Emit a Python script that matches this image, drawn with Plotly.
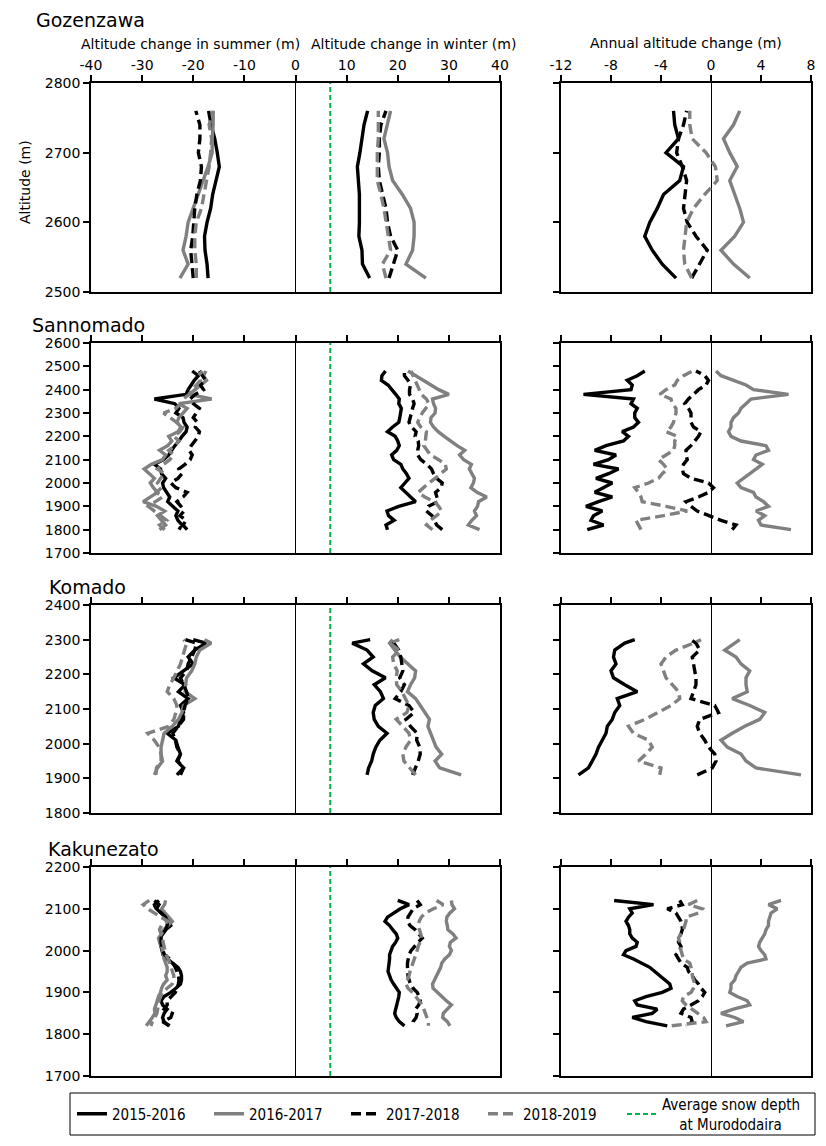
"""Altitude change profiles of four snow patches (summer / winter / annual)."""
import plotly.graph_objects as go

# the page body keeps its default 8px margin, so the figure is drawn 8px in
PAGE_W, PAGE_H, BODY_MARGIN = 826, 1146, 8
W, H = PAGE_W - BODY_MARGIN, PAGE_H - BODY_MARGIN
FONT = "DejaVu Sans, Verdana, sans-serif"
LEGEND_FONT = "DejaVu Sans Condensed, Liberation Sans Narrow, DejaVu Sans, sans-serif"
LINE_W = 3.4

SEASONS = ["2015-2016", "2016-2017", "2017-2018", "2018-2019"]
SEASON_COLORS = ["#000000", "#808080", "#000000", "#808080"]
SEASON_DASHES = ["solid", "solid", "10px,5px", "10px,5px"]

# average snow depth at Murododaira (m)
SNOW_DEPTH = 6.8
SNOW_LABEL = "Average snow depth<br>\u00a0\u00a0\u00a0\u00a0at Murododaira"

# ---- Gozenzawa ----
GOZ_ALT = [2520, 2540, 2560, 2580, 2600, 2620, 2640, 2660, 2680, 2700, 2720, 2740, 2760]
GOZ_SUMMER = [
    [-17.1, -17.3, -17.7, -17.8, -17.3, -16.6, -16.2, -15.6, -14.9, -15.3, -15.8, -16.5, -17.0],
    [-22.6, -21.0, -22.0, -21.4, -21.0, -20.0, -19.0, -18.1, -17.1, -16.3, -16.3, -16.1, -16.1],
    [-20.0, -20.3, -20.5, -20.1, -19.9, -19.7, -19.3, -18.6, -18.4, -19.0, -18.7, -18.7, -19.5],
    [-19.4, -19.4, -19.7, -19.7, -19.4, -18.4, -17.9, -17.4, -16.9, -16.6, -16.4, -16.9, -16.1],
]
GOZ_WINTER = [
    [14.5, 13.1, 13.0, 12.4, 12.5, 12.5, 12.5, 12.3, 12.1, 12.6, 13.0, 13.4, 14.1],
    [25.5, 21.6, 22.9, 23.2, 23.2, 22.5, 20.9, 19.0, 18.3, 18.0, 17.3, 18.0, 18.6],
    [18.3, 19.2, 20.0, 18.6, 18.0, 17.7, 17.0, 16.4, 16.2, 16.4, 16.4, 16.7, 17.7],
    [17.7, 17.0, 18.6, 18.2, 17.7, 17.3, 16.7, 16.0, 16.0, 16.0, 16.2, 16.2, 16.2],
]
GOZ_ANNUAL = [
    [-2.8, -3.9, -4.7, -5.3, -4.9, -4.3, -3.8, -2.5, -2.2, -3.6, -2.6, -2.9, -3.0],
    [3.1, 1.8, 0.8, 1.9, 2.6, 2.3, 1.9, 1.5, 2.1, 1.5, 1.0, 1.8, 2.3],
    [-1.55, -0.9, -0.3, -1.2, -1.9, -2.2, -2.1, -1.95, -2.3, -2.75, -2.6, -2.2, -1.95],
    [-1.55, -2.1, -2.2, -2.1, -1.95, -1.4, -0.5, 0.5, 0.35, -0.4, -1.5, -1.7, -1.7],
]

# ---- Sannomado ----
SAN_ALT = [1800, 1820, 1840, 1860, 1880, 1900, 1920, 1940, 1960, 1980, 2000, 2020,
           2040, 2060, 2080, 2100, 2120, 2140, 2160, 2180, 2200, 2220, 2240, 2260,
           2280, 2300, 2320, 2340, 2360, 2380, 2400, 2420, 2440, 2460, 2480]
SAN_SUMMER = [
    [-22.8, -22.2, -23.0, -23.4, -23.0, -24.0, -25.0, -24.6, -25.2, -25.8, -26.0, -25.4,
     -26.2, -26.4, -27.6, -25.8, -24.8, -24.2, -23.6, -22.8, -22.2, -21.4, -21.2, -21.8,
     -22.0, -23.4, -22.8, -23.6, -27.6, -21.4, -21.0, -20.4, -19.8, -19.0, -20.2],
    [-26.6, -25.4, -26.2, -27.0, -25.6, -27.2, -29.8, -28.4, -27.0, -27.8, -28.4, -27.6,
     -28.6, -29.6, -28.2, -26.0, -25.4, -26.6, -25.0, -24.2, -24.8, -23.0, -22.4, -23.2,
     -22.8, -22.0, -21.2, -22.8, -16.4, -20.8, -19.6, -18.4, -17.4, -18.0, -17.5],
    [-21.2, -22.0, -21.4, -22.6, -21.8, -22.4, -23.2, -22.0, -21.2, -23.4, -24.4, -23.0,
     -22.2, -22.8, -21.6, -20.6, -20.2, -20.8, -20.4, -19.6, -19.0, -18.8, -19.6, -19.2,
     -20.0, -19.4, -18.8, -20.0, -20.6, -19.6, -18.0, -18.6, -17.6, -18.2, -18.8],
    [-25.6, -26.6, -25.2, -26.4, -27.6, -28.8, -27.4, -26.0, -27.2, -26.2, -27.0, -26.4,
     -25.6, -27.0, -25.8, -24.6, -23.8, -24.8, -23.6, -22.8, -23.8, -22.6, -22.0, -23.2,
     -24.6, -25.8, -23.4, -22.4, -22.0, -20.8, -20.2, -19.4, -18.6, -19.0, -18.2],
]
SAN_WINTER = [
    [18.0, 17.7, 19.3, 18.2, 17.9, 20.2, 23.5, 22.6, 21.6, 20.6, 21.4, 22.2,
     21.7, 21.0, 20.6, 19.2, 18.8, 19.8, 20.3, 20.0, 19.5, 18.0, 19.0, 20.2,
     20.4, 20.5, 20.7, 20.2, 20.3, 19.6, 18.9, 18.1, 16.8, 16.9, 17.6],
    [36.0, 33.8, 34.5, 35.4, 35.0, 35.6, 35.8, 37.4, 35.5, 34.3, 34.8, 35.0,
     34.5, 34.0, 34.4, 32.9, 32.1, 33.1, 31.6, 30.2, 29.1, 27.9, 27.0, 26.4,
     26.5, 27.3, 27.4, 27.0, 26.8, 30.0, 28.0, 26.5, 25.0, 23.4, 22.0],
    [28.7, 27.6, 27.2, 26.7, 25.6, 26.0, 27.9, 27.6, 27.4, 28.5, 28.7, 27.6,
     27.0, 26.6, 25.7, 24.5, 23.9, 23.9, 24.1, 24.0, 23.4, 23.6, 22.7, 22.2,
     22.4, 22.6, 22.9, 23.2, 22.9, 22.3, 22.3, 22.5, 22.0, 21.3, 21.3],
    [26.8, 25.6, 26.3, 27.6, 28.6, 28.0, 27.2, 25.3, 24.0, 25.0, 26.1, 27.3,
     28.3, 29.5, 29.3, 28.0, 26.4, 25.8, 25.1, 25.4, 25.5, 25.6, 24.5, 23.9,
     24.3, 24.8, 25.5, 26.1, 25.6, 24.6, 24.2, 23.8, 23.4, 22.9, 22.6],
]
SAN_ANNUAL = [
    [-9.9, -8.6, -9.6, -9.4, -8.7, -10.0, -9.0, -7.9, -9.3, -8.6, -7.9, -9.2,
     -8.2, -7.4, -9.4, -8.2, -7.6, -9.3, -8.4, -7.0, -6.6, -7.1, -6.2, -5.8,
     -6.1, -6.1, -5.9, -6.4, -6.2, -10.2, -6.4, -6.3, -6.7, -5.9, -5.3],
    [6.4, 4.0, 3.8, 4.3, 3.6, 4.6, 4.2, 3.6, 3.4, 2.4, 2.1, 2.6,
     3.0, 3.6, 4.1, 3.4, 3.6, 4.6, 4.4, 2.4, 1.6, 1.4, 1.6, 1.6,
     1.8, 2.2, 2.4, 2.8, 3.2, 6.2, 3.4, 2.8, 1.7, 0.8, 0.4],
    [1.7, 2.0, 0.8, -0.2, -1.1, -1.6, -2.0, -1.0, -0.2, 0.2, -0.2, -1.6,
     -2.2, -2.3, -2.2, -1.9, -2.0, -2.0, -1.6, -1.3, -1.0, -0.8, -1.4, -1.6,
     -1.6, -1.6, -1.8, -2.1, -1.8, -1.4, -1.0, -0.4, -0.2, -0.5, -1.2],
    [-5.6, -5.8, -6.0, -3.8, -1.9, -3.6, -5.5, -5.6, -5.8, -6.1, -5.0, -4.2,
     -3.9, -3.5, -3.8, -4.2, -3.6, -3.0, -2.9, -2.9, -2.7, -3.6, -3.2, -3.0,
     -2.9, -2.8, -2.8, -3.1, -3.2, -4.1, -3.6, -2.9, -2.7, -2.2, -1.5],
]

# ---- Komado ----
KOM_ALT = [1910, 1930, 1950, 1970, 1990, 2010, 2030, 2050, 2070, 2090, 2110,
           2130, 2150, 2170, 2190, 2210, 2230, 2250, 2270, 2290, 2300]
KOM_SUMMER = [
    [-22.5, -21.9, -23.2, -22.5, -23.0, -23.4, -25.1, -22.9, -22.5, -21.9, -22.5,
     -21.0, -22.9, -21.6, -23.8, -21.9, -20.0, -21.0, -19.7, -17.5, -20.0],
    [-27.6, -27.0, -26.0, -26.3, -26.3, -26.0, -25.7, -24.1, -22.9, -22.2, -21.9,
     -19.7, -21.6, -21.5, -21.3, -20.3, -19.7, -19.4, -18.7, -16.5, -17.8],
    [-23.2, -21.9, -23.0, -22.5, -23.2, -23.5, -24.0, -22.9, -21.9, -21.9, -21.6,
     -21.0, -21.3, -21.9, -22.5, -21.3, -21.0, -20.3, -19.7, -19.4, -21.6],
    [-27.3, -27.2, -26.3, -26.3, -26.7, -27.6, -28.9, -24.8, -23.8, -23.4, -23.2,
     -23.8, -25.1, -24.6, -23.8, -23.2, -22.5, -22.1, -21.7, -21.3, -21.9],
]
KOM_WINTER = [
    [14.0, 14.3, 14.9, 15.2, 15.7, 16.5, 17.9, 16.2, 15.4, 15.2, 15.6,
     17.2, 16.6, 15.4, 17.6, 15.0, 13.3, 15.2, 14.0, 11.1, 14.6],
    [32.4, 28.2, 27.3, 28.6, 27.5, 27.0, 26.4, 25.9, 26.2, 25.2, 24.4,
     23.5, 21.9, 22.5, 23.3, 23.5, 22.0, 20.5, 19.4, 18.4, 19.0],
    [22.9, 23.5, 24.0, 24.4, 24.3, 23.7, 23.8, 22.5, 21.6, 23.2, 22.2,
     19.5, 20.6, 21.3, 20.4, 21.0, 20.8, 20.6, 20.2, 19.2, 19.0],
    [23.5, 22.4, 21.2, 21.0, 21.6, 22.5, 22.2, 21.0, 19.7, 21.8, 22.2,
     21.5, 20.8, 19.8, 19.7, 19.9, 19.2, 19.0, 20.3, 18.4, 20.3],
]
KOM_ANNUAL = [
    [-10.6, -9.8, -9.5, -9.2, -9.0, -8.7, -8.4, -8.3, -7.9, -7.7, -7.3,
     -7.5, -5.9, -6.9, -7.8, -8.0, -7.6, -7.8, -7.7, -6.9, -6.1],
    [7.2, 3.6, 2.8, 2.4, 1.3, 0.8, 1.7, 2.7, 3.9, 4.3, 3.1,
     1.7, 2.9, 2.8, 2.8, 3.1, 2.4, 2.0, 1.1, 1.9, 2.3],
    [-1.1, 0.1, 0.4, 0.3, -0.2, -0.5, -0.9, -1.1, -0.9, 0.6, 0.3,
     -1.6, -1.4, -1.2, -1.2, -1.3, -1.4, -1.5, -0.9, -1.2, -1.6],
    [-4.1, -4.0, -5.8, -5.2, -4.7, -5.0, -6.2, -6.6, -5.3, -4.3, -3.2,
     -2.5, -2.6, -3.1, -3.6, -3.8, -4.0, -3.6, -2.8, -1.4, -0.8],
]

# ---- Kakunezato (listed from the top of the patch down) ----
KAK_ALT = [2120, 2110, 2100, 2090, 2080, 2070, 2060, 2050, 2040, 2030, 2020,
           2010, 2000, 1990, 1980, 1970, 1960, 1950, 1940, 1930, 1920,
           1910, 1900, 1890, 1880, 1870, 1860, 1850, 1840, 1830, 1820]
KAK_SUMMER = [
    [-27.6, -26.7, -27.2, -26.3, -25.4, -24.8, -24.4, -25.4, -26.0, -26.5, -26.5,
     -26.3, -26.2, -25.9, -25.1, -24.0, -23.0, -22.5, -22.3, -22.3, -22.5,
     -23.4, -24.4, -25.7, -26.3, -26.0, -25.1, -25.7, -26.0, -25.7, -24.8],
    [-25.4, -25.6, -26.2, -25.4, -24.8, -24.1, -25.0, -25.8, -26.2, -26.8, -26.6,
     -26.2, -26.0, -25.9, -25.7, -25.4, -25.1, -25.1, -25.4, -25.1, -25.8,
     -26.2, -26.4, -26.8, -27.0, -27.3, -27.6, -27.5, -28.0, -28.6, -29.2],
    [-26.7, -27.6, -27.3, -26.2, -25.4, -25.1, -25.1, -25.4, -26.0, -26.3, -26.3,
     -26.2, -26.0, -25.6, -24.6, -24.0, -23.5, -23.2, -22.9, -22.8, -22.9,
     -23.2, -23.5, -24.3, -25.1, -25.1, -25.7, -24.1, -24.4, -26.0, -24.6],
    [-28.6, -29.8, -28.9, -27.6, -26.3, -25.0, -26.2, -26.6, -26.3, -26.0, -25.9,
     -25.7, -25.6, -25.3, -24.9, -24.6, -24.3, -24.0, -23.8, -23.8, -24.1,
     -25.1, -26.0, -26.4, -26.7, -26.8, -27.0, -27.1, -27.5, -28.0, -28.3],
]
KAK_WINTER = [
    [20.0, 22.2, 20.5, 19.2, 18.0, 17.5, 18.4, 19.0, 19.7, 20.0, 19.6,
     19.0, 18.7, 18.4, 18.4, 18.3, 18.1, 18.1, 18.4, 18.7, 19.2,
     19.7, 20.3, 20.2, 20.0, 19.8, 19.7, 19.4, 19.7, 20.3, 21.3],
    [30.5, 30.6, 31.1, 30.2, 29.6, 29.5, 29.7, 29.8, 30.8, 31.4, 30.3,
     30.1, 30.5, 30.1, 29.2, 28.6, 28.4, 28.0, 27.6, 27.2, 26.8,
     26.9, 27.7, 28.6, 29.5, 30.5, 29.6, 28.9, 28.8, 29.7, 30.2],
    [23.8, 24.4, 23.0, 22.5, 22.0, 21.9, 22.4, 23.4, 24.2, 24.8, 24.0,
     23.2, 22.6, 22.2, 22.0, 21.9, 21.9, 21.9, 22.0, 22.2, 22.5,
     23.0, 23.8, 24.2, 24.4, 24.1, 23.5, 23.8, 23.6, 23.0, 22.9],
    [27.6, 28.9, 27.0, 25.4, 24.6, 24.2, 24.0, 24.3, 24.5, 24.7, 24.3,
     24.0, 23.8, 23.5, 23.2, 22.9, 22.7, 22.4, 22.2, 21.9, 21.6,
     22.0, 22.9, 23.5, 24.1, 24.8, 25.1, 25.4, 25.7, 26.0, 26.0],
]
KAK_ANNUAL = [
    [-7.75, -4.6, -6.5, -6.3, -6.6, -6.8, -6.6, -6.5, -6.5, -6.3, -5.9,
     -6.0, -6.8, -7.0, -6.2, -5.5, -4.9, -4.5, -4.1, -3.7, -3.3,
     -3.2, -3.9, -5.2, -6.1, -5.9, -4.3, -4.7, -6.3, -5.2, -3.5],
    [5.6, 4.6, 5.3, 4.8, 4.7, 4.6, 4.6, 4.4, 4.3, 4.1, 3.9,
     3.8, 4.0, 4.3, 4.4, 2.9, 2.4, 2.2, 2.0, 1.9, 1.6,
     1.6, 1.5, 2.1, 2.9, 3.1, 1.8, 0.8, 1.9, 2.6, 1.2],
    [-2.5, -2.3, -3.5, -2.8, -2.6, -2.4, -2.3, -2.3, -2.4, -2.6, -2.6,
     -2.4, -2.5, -2.8, -2.6, -2.4, -1.9, -1.8, -1.5, -1.3, -1.0,
     -0.8, -0.5, -0.7, -1.0, -1.6, -2.2, -2.4, -1.6, -1.5, -2.0],
    [-1.1, -1.8, -0.7, -1.0, -2.0, -2.0, -2.1, -2.2, -2.4, -2.6, -2.5,
     -2.5, -2.4, -2.3, -2.2, -1.7, -1.6, -1.5, -1.5, -1.4, -1.3,
     -1.4, -1.6, -2.2, -2.3, -2.0, -1.5, -1.0, -0.6, -0.4, -3.2],
]

SITES = [
    ("Gozenzawa", GOZ_ALT, GOZ_SUMMER, GOZ_WINTER, GOZ_ANNUAL, [2500, 2800]),
    ("Sannomado", SAN_ALT, SAN_SUMMER, SAN_WINTER, SAN_ANNUAL, [1700, 2600]),
    ("Komado", KOM_ALT, KOM_SUMMER, KOM_WINTER, KOM_ANNUAL, [1800, 2400]),
    ("Kakunezato", KAK_ALT, KAK_SUMMER, KAK_WINTER, KAK_ANNUAL, [1700, 2200]),
]

CHANGE_TICKS = [-40, -30, -20, -10, 0, 10, 20, 30, 40]
ANNUAL_TICKS = [-12, -8, -4, 0, 4, 8]

# panel boxes in page pixels
LEFT_PX = (91, 500)
RIGHT_PX = (561, 811)
ROWS_PX = [(83, 292), (343, 553), (605, 813), (867, 1076)]
TITLE_PX = [(34, 20), (30, 325), (47, 587), (46, 849)]
LEGEND_BOX_PX = (70, 1093, 815, 1135)


def fx(px):
    return (px - BODY_MARGIN) / W


def fy(py):
    return 1 - (py - BODY_MARGIN) / H


def ax_id(i, letter):
    return letter if i == 1 else f"{letter}{i}"


def x_axis(domain, anchor, ticks, labels):
    return dict(
        domain=domain, anchor=anchor, side="top",
        range=[ticks[0], ticks[-1]],
        tickmode="array", tickvals=ticks, ticktext=[str(t) for t in ticks],
        showticklabels=labels, ticks="outside", ticklen=6, tickwidth=1.5,
        tickcolor="black", showline=True, linecolor="black", linewidth=1.5,
        mirror=True, showgrid=False, zeroline=True, zerolinecolor="black",
        zerolinewidth=1.2, tickfont=dict(family=FONT, size=14, color="black"),
        fixedrange=True,
    )


def y_axis(domain, anchor, yrange, labels):
    return dict(
        domain=domain, anchor=anchor, range=yrange,
        tickmode="linear", tick0=0, dtick=100,
        showticklabels=labels, ticks="outside", ticklen=6, tickwidth=1.5,
        tickcolor="black", showline=True, linecolor="black", linewidth=1.5,
        mirror=True, showgrid=False, zeroline=False,
        tickfont=dict(family=FONT, size=14, color="black"),
        fixedrange=True,
    )


fig = go.Figure()
layout = {}
annotations = []

for r, (site, alt, summer, winter, annual, yrange) in enumerate(SITES):
    li, ri = 2 * r + 1, 2 * r + 2
    top, bottom = ROWS_PX[r]
    ydom = [fy(bottom), fy(top)]
    xl, yl = ax_id(li, "x"), ax_id(li, "y")
    xr, yr = ax_id(ri, "x"), ax_id(ri, "y")

    layout[ax_id(li, "xaxis")] = x_axis([fx(LEFT_PX[0]), fx(LEFT_PX[1])], yl, CHANGE_TICKS, r == 0)
    layout[ax_id(ri, "xaxis")] = x_axis([fx(RIGHT_PX[0]), fx(RIGHT_PX[1])], yr, ANNUAL_TICKS, r == 0)
    layout[ax_id(li, "yaxis")] = y_axis(ydom, xl, yrange, True)
    layout[ax_id(ri, "yaxis")] = y_axis(ydom, xr, yrange, False)

    for k in range(4):
        style = dict(color=SEASON_COLORS[k], width=LINE_W, dash=SEASON_DASHES[k])
        fig.add_trace(go.Scatter(
            x=summer[k], y=alt, xaxis=xl, yaxis=yl, mode="lines", line=style,
            name=SEASONS[k], legendgroup=SEASONS[k], showlegend=(r == 0),
            legendrank=k + 1,
        ))
    for k in range(4):
        style = dict(color=SEASON_COLORS[k], width=LINE_W, dash=SEASON_DASHES[k])
        fig.add_trace(go.Scatter(
            x=winter[k], y=alt, xaxis=xl, yaxis=yl, mode="lines", line=style,
            name=SEASONS[k], legendgroup=SEASONS[k], showlegend=False,
        ))
    fig.add_trace(go.Scatter(
        x=[SNOW_DEPTH, SNOW_DEPTH], y=yrange, xaxis=xl, yaxis=yl, mode="lines",
        line=dict(color="#00B050", width=2, dash="5px,3px"),
        name=SNOW_LABEL, legendgroup="snow", legend="legend2",
        showlegend=(r == 0),
    ))
    for k in range(4):
        style = dict(color=SEASON_COLORS[k], width=LINE_W, dash=SEASON_DASHES[k])
        fig.add_trace(go.Scatter(
            x=annual[k], y=alt, xaxis=xr, yaxis=yr, mode="lines", line=style,
            name=SEASONS[k], legendgroup=SEASONS[k], showlegend=False,
        ))

    tx, ty = TITLE_PX[r]
    annotations.append(dict(
        text=site, x=fx(tx), y=fy(ty), xref="paper", yref="paper",
        xanchor="left", yanchor="middle", showarrow=False,
        font=dict(family=FONT, size=19, color="black"),
    ))

for text, cx, cy in [("Altitude change in summer (m)", 190, 44),
                     ("Altitude change in winter (m)", 413, 44),
                     ("Annual altitude change (m)", 686, 43)]:
    annotations.append(dict(
        text=text, x=fx(cx), y=fy(cy), xref="paper", yref="paper",
        xanchor="center", yanchor="middle", showarrow=False,
        font=dict(family=FONT, size=14, color="black"),
    ))

annotations.append(dict(
    text="Altitude (m)", x=fx(25), y=fy(182), xref="paper", yref="paper",
    xanchor="center", yanchor="middle", textangle=-90, showarrow=False,
    font=dict(family=FONT, size=14, color="black"),
))

bx0, by0, bx1, by1 = LEGEND_BOX_PX
fig.add_shape(
    type="rect", xref="paper", yref="paper",
    x0=fx(bx0), x1=fx(bx1), y0=fy(by1), y1=fy(by0),
    line=dict(color="black", width=1), fillcolor="rgba(0,0,0,0)", layer="above",
)

legend_font = dict(family=LEGEND_FONT, size=15, color="black")
fig.update_layout(
    **layout,
    annotations=annotations,
    width=W, height=H,
    margin=dict(l=0, r=0, t=0, b=0, autoexpand=False),
    paper_bgcolor="white", plot_bgcolor="white",
    showlegend=True,
    legend=dict(
        orientation="h", x=fx(72), y=fy(1114), xanchor="left", yanchor="middle",
        borderwidth=0, bgcolor="rgba(0,0,0,0)", font=legend_font,
        entrywidth=92, itemwidth=30, traceorder="normal", valign="middle",
    ),
    legend2=dict(
        orientation="h", x=fx(622), y=fy(1114), xanchor="left", yanchor="middle",
        borderwidth=0, bgcolor="rgba(0,0,0,0)", font=legend_font,
        itemwidth=30, valign="middle",
    ),
)

fig.write_html("out.html")
